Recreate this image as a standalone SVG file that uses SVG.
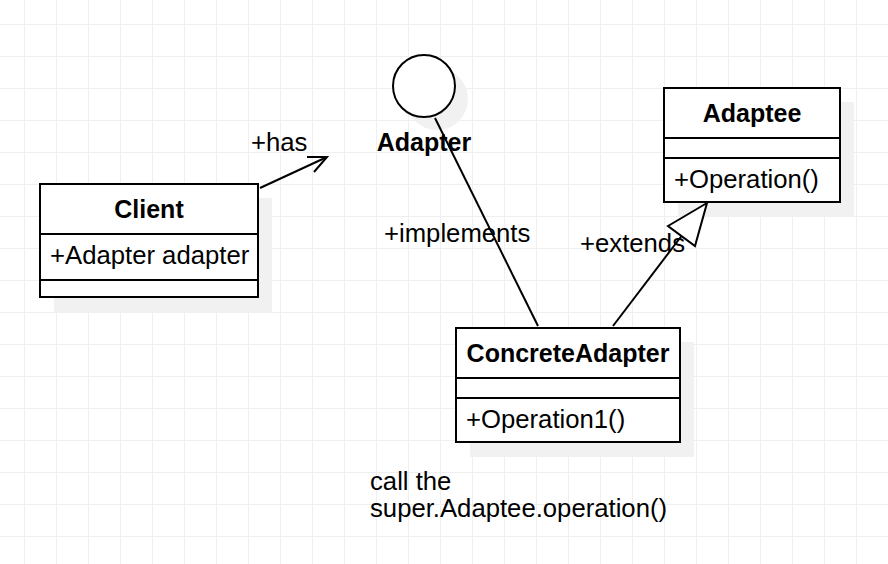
<svg xmlns="http://www.w3.org/2000/svg" width="888" height="564" viewBox="0 0 888 564">
<defs>
<pattern id="grid" patternUnits="userSpaceOnUse" x="0" y="0" width="32" height="32">
<path d="M24.5 0V32M0 24.5H32" stroke="#efefef" stroke-width="1" fill="none"/>
</pattern>
</defs>
<style>
text{font-family:"Liberation Sans",Arial,sans-serif;font-size:25.7px;fill:#000}
.b{font-weight:bold;font-size:25px}
.box{fill:#fff;stroke:#000;stroke-width:2}
.sh{fill:#f1f1f1;stroke:none}
.ln{stroke:#000;stroke-width:2;fill:none}
</style>
<rect width="888" height="564" fill="#fff"/>
<rect width="888" height="564" fill="url(#grid)"/>

<g id="client">
<rect class="sh" x="54" y="198" width="218" height="115"/>
<rect class="box" x="40" y="184" width="218" height="113"/>
<line class="ln" x1="40" y1="234" x2="258" y2="234"/>
<line class="ln" x1="40" y1="280" x2="258" y2="280"/>
<text class="b" x="149" y="218" text-anchor="middle">Client</text>
<text x="50" y="264">+Adapter adapter</text>
</g>

<g id="adapter">
<circle class="sh" cx="437" cy="99" r="31"/>
<circle class="box" cx="424" cy="86" r="31"/>
<text class="b" x="424" y="151" text-anchor="middle">Adapter</text>
</g>

<g id="adaptee">
<rect class="sh" x="678" y="102" width="176" height="115"/>
<rect class="box" x="664" y="88" width="176" height="114"/>
<line class="ln" x1="664" y1="138" x2="840" y2="138"/>
<line class="ln" x1="664" y1="158" x2="840" y2="158"/>
<text class="b" x="752" y="122" text-anchor="middle">Adaptee</text>
<text x="674" y="188">+Operation()</text>
</g>

<g id="concreteadapter">
<rect class="sh" x="470" y="342" width="224" height="115"/>
<rect class="box" x="456" y="328" width="224" height="114"/>
<line class="ln" x1="456" y1="378" x2="680" y2="378"/>
<line class="ln" x1="456" y1="398" x2="680" y2="398"/>
<text class="b" x="568" y="362" text-anchor="middle">ConcreteAdapter</text>
<text x="466" y="428">+Operation1()</text>
</g>

<g id="note">
<text x="370" y="490">call the</text>
<text x="370" y="517">super.Adaptee.operation()</text>
</g>

<g id="connectors">
<line class="ln" x1="260" y1="188" x2="327" y2="157"/>
<polyline class="ln" points="314,172 327,157 307,157"/>
<text x="251" y="151">+has</text>
<line class="ln" x1="435" y1="118" x2="538" y2="326"/>
<text x="384" y="242">+implements</text>
<line class="ln" x1="613" y1="326" x2="681.5" y2="236"/>
<polygon class="box" points="707,203 668,226 695,246"/>
<text x="580" y="252">+extends</text>
</g>
</svg>
